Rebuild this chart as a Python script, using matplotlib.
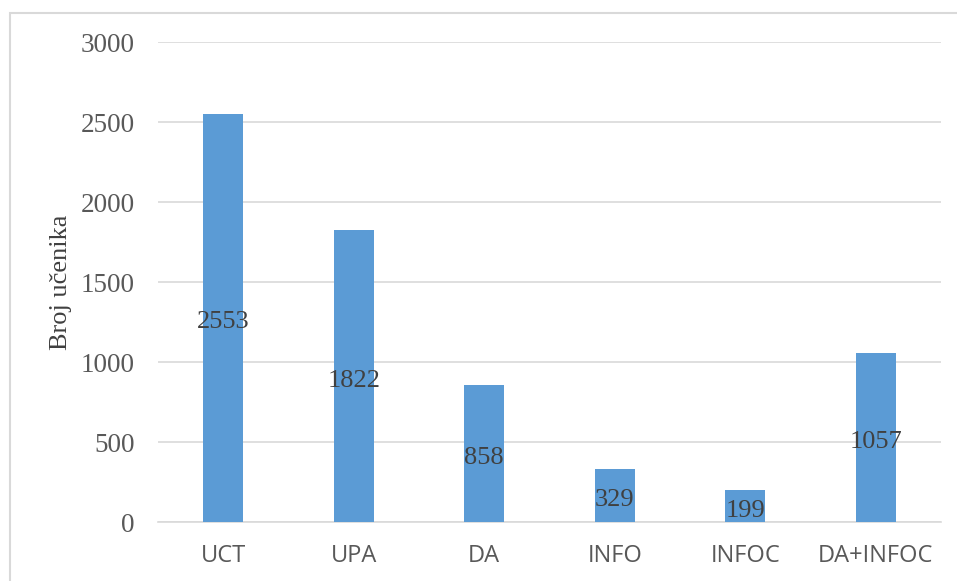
import matplotlib
matplotlib.use("Agg")
import matplotlib.pyplot as plt
from matplotlib.patches import Rectangle
from matplotlib.transforms import offset_copy

categories = ["UCT", "UPA", "DA", "INFO", "INFOC", "DA+INFOC"]
values = [2553, 1822, 858, 329, 199, 1057]
yticks = [0, 500, 1000, 1500, 2000, 2500, 3000]

W, H = 957, 581
fig = plt.figure(figsize=(W / 100, H / 100), dpi=100)
fig.patch.set_facecolor("white")

# outer chart frame (extends past right/bottom edges)
fig.add_artist(Rectangle((10 / W, -0.05), 1.1, 1 - 13 / H + 0.05,
                         transform=fig.transFigure, fill=False,
                         edgecolor="#D9D9D9", linewidth=1.5))

ax = fig.add_axes([158 / W, 1 - 522 / H, (941 - 158) / W, (522 - 42) / H])
x = range(len(categories))
bars = ax.bar(x, values, width=0.31, color="#5B9BD5", zorder=3)

ax.set_xlim(-0.5, len(categories) - 0.5)
ax.set_ylim(0, 3000)
ax.set_yticks(yticks)
ax.set_yticklabels([str(t) for t in yticks], fontfamily="Liberation Serif",
                   fontsize=19.5, color="#595959")
ax.set_xticks(list(x))
ax.set_xticklabels(categories, fontfamily="Open Sans", fontsize=17, color="#595959")
ax.tick_params(axis="both", length=0)
ax.tick_params(axis="y", pad=17)
ax.tick_params(axis="x", pad=16)
ax.grid(axis="y", color="#D9D9D9", linewidth=1.2, zorder=0)
for s in ["top", "right", "left"]:
    ax.spines[s].set_visible(False)
ax.spines["bottom"].set_color("#D9D9D9")
ax.spines["bottom"].set_linewidth(1.2)

lbl_tr = offset_copy(ax.transData, fig=fig, x=0, y=-2, units="dots")
for xi, v in zip(x, values):
    ax.text(xi, v / 2, str(v), ha="center", va="center_baseline", transform=lbl_tr,
            fontfamily="Liberation Serif", fontsize=19, color="#404040", zorder=4)

fig.text(61 / W, 1 - 282 / H, "Broj učenika", rotation=90, ha="center", va="center",
         fontfamily="Liberation Serif", fontsize=19, color="#404040")

fig.savefig("out.png", dpi=100, facecolor="white")
